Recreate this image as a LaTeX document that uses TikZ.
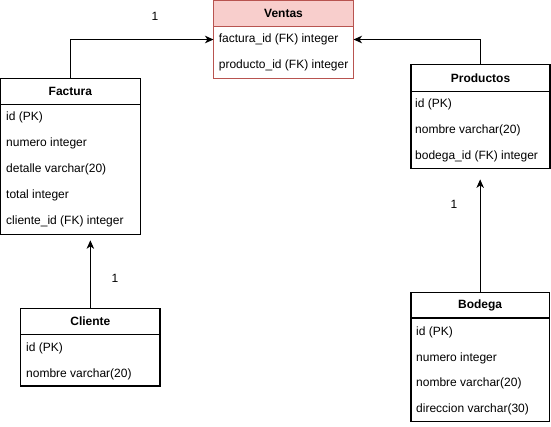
\documentclass[tikz,border=0pt]{standalone}
\usepackage{fontspec}
\setmainfont{Liberation Sans}
\usetikzlibrary{arrows.meta}
\definecolor{vfill}{HTML}{F8CECC}
\definecolor{vline}{HTML}{B85450}
\begin{document}
\begin{tikzpicture}[x=1pt,y=-1pt,
  font=\fontsize{12}{14}\selectfont,
  hdr/.style={draw, line width=1.1pt, anchor=north west, inner sep=0pt, outer sep=0pt, font=\fontsize{12}{14}\selectfont\bfseries},
  body/.style={draw, line width=1.1pt, anchor=north west, inner sep=0pt, outer sep=0pt},
  rowtxt/.style={anchor=west, inner sep=0pt},
  lbl/.style={inner sep=0pt},
  conn/.style={-{Stealth[length=8.5pt,width=7.5pt,inset=2.5pt]}, line width=1.1pt}]
\useasboundingbox (0,0) rectangle (551,426);
% Ventas
\node[hdr, draw=vline, fill=vfill, minimum width=140pt, minimum height=25.3pt] (ventas-h) at (213.5,0.8) {Ventas};
\node[body, draw=vline, fill=white, minimum width=140pt, minimum height=52.3pt] (ventas-b) at (ventas-h.south west) {};
\node[rowtxt] (ventas-r1) at (218.7,39.5) {factura\_id (FK) integer};
\node[rowtxt] (ventas-r2) at (218.7,65) {producto\_id (FK) integer};
% Factura
\node[hdr, minimum width=139.5pt, minimum height=26pt] (factura-h) at (0.6,78.5) {Factura};
\node[body, minimum width=139.5pt, minimum height=129.8pt] (factura-b) at (factura-h.south west) {};
\node[rowtxt] (factura-r1) at (6,117.3) {id (PK)};
\node[rowtxt] (factura-r2) at (6,143.3) {numero integer};
\node[rowtxt] (factura-r3) at (6,169.3) {detalle varchar(20)};
\node[rowtxt] (factura-r4) at (6,195.3) {total integer};
\node[rowtxt] (factura-r5) at (6,221.3) {cliente\_id (FK) integer};
% Productos
\node[hdr, minimum width=139pt, minimum height=27.3pt] (productos-h) at (411,64.5) {Productos};
\node[body, minimum width=139pt, minimum height=76.6pt] (productos-b) at (productos-h.south west) {};
\node[rowtxt] (productos-r1) at (415,104) {id (PK)};
\node[rowtxt] (productos-r2) at (415,130) {nombre varchar(20)};
\node[rowtxt] (productos-r3) at (415,156.5) {bodega\_id (FK) integer};
% Cliente
\node[hdr, minimum width=139.3pt, minimum height=25.6pt] (cliente-h) at (20.7,308.8) {Cliente};
\node[body, minimum width=139.3pt, minimum height=51.6pt] (cliente-b) at (cliente-h.south west) {};
\node[rowtxt] (cliente-r1) at (26,348.3) {id (PK)};
\node[rowtxt] (cliente-r2) at (26,374.3) {nombre varchar(20)};
% Bodega
\node[hdr, minimum width=138.3pt, minimum height=25.3pt] (bodega-h) at (411,292.7) {Bodega};
\node[body, minimum width=138.3pt, minimum height=103.7pt] (bodega-b) at (bodega-h.south west) {};
\node[rowtxt] (bodega-r1) at (416,332.5) {id (PK)};
\node[rowtxt] (bodega-r2) at (416,358) {numero integer};
\node[rowtxt] (bodega-r3) at (416,383.5) {nombre varchar(20)};
\node[rowtxt] (bodega-r4) at (416,409.3) {direccion varchar(30)};
% Labels
\node[lbl] (l1) at (155,16) {1};
\node[lbl] (l2) at (115,278) {1};
\node[lbl] (l3) at (454,204.5) {1};
% Connectors
\draw[conn] (factura-h.north) |- (ventas-r1.west -| ventas-h.west);
\draw[conn] (productos-h.north) |- (ventas-r1.west -| ventas-h.east);
\draw[conn, shorten >=6pt] (cliente-h.north) -- (cliente-h.north |- factura-b.south);
\draw[conn, shorten >=11pt] (bodega-h.north) -- (bodega-h.north |- productos-b.south);
\end{tikzpicture}
\end{document}
